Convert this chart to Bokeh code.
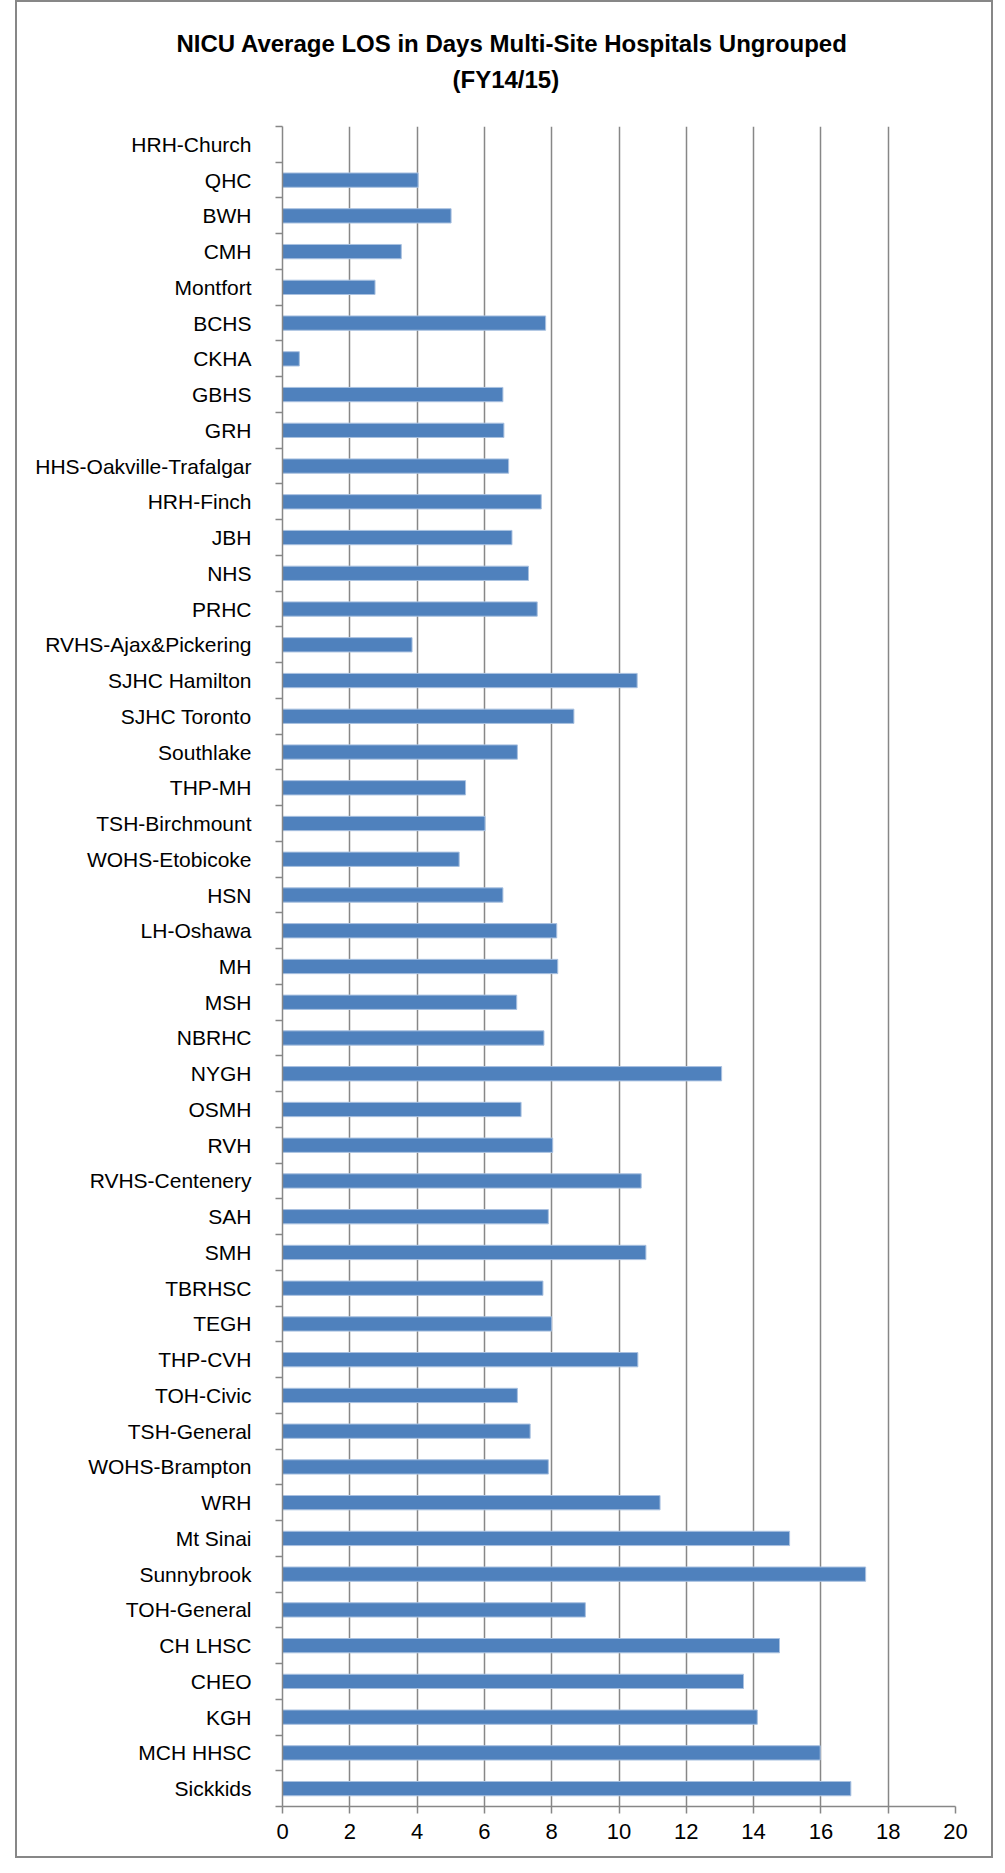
from bokeh.plotting import figure
from bokeh.models import Range1d, FixedTicker, ColumnDataSource, Title, Spacer, Row
from bokeh.embed import file_html
from bokeh.resources import INLINE

title_line1 = "NICU Average LOS in Days Multi-Site Hospitals Ungrouped"
title_line2 = "(FY14/15)"

hospitals = [
    "HRH-Church", "QHC", "BWH", "CMH", "Montfort", "BCHS", "CKHA", "GBHS", "GRH",
    "HHS-Oakville-Trafalgar", "HRH-Finch", "JBH", "NHS", "PRHC", "RVHS-Ajax&Pickering",
    "SJHC Hamilton", "SJHC Toronto", "Southlake", "THP-MH", "TSH-Birchmount",
    "WOHS-Etobicoke", "HSN", "LH-Oshawa", "MH", "MSH", "NBRHC", "NYGH", "OSMH", "RVH",
    "RVHS-Centenery", "SAH", "SMH", "TBRHSC", "TEGH", "THP-CVH", "TOH-Civic",
    "TSH-General", "WOHS-Brampton", "WRH", "Mt Sinai", "Sunnybrook", "TOH-General",
    "CH LHSC", "CHEO", "KGH", "MCH HHSC", "Sickkids",
]
los_days = [
    0.0, 4.03, 5.01, 3.53, 2.75, 7.82, 0.5, 6.55, 6.58,
    6.72, 7.69, 6.82, 7.31, 7.57, 3.85,
    10.54, 8.66, 6.98, 5.44, 6.02,
    5.25, 6.55, 8.15, 8.18, 6.96, 7.77, 13.05, 7.09, 8.03,
    10.66, 7.90, 10.80, 7.74, 8.0, 10.56, 6.98,
    7.36, 7.90, 11.22, 15.07, 17.33, 9.0,
    14.77, 13.70, 14.11, 15.98, 16.89,
]
x_ticks = [0, 2, 4, 6, 8, 10, 12, 14, 16, 18, 20]

FONT = "Liberation Sans"
GRAY = "#878787"

n = len(hospitals)
pos = list(range(n))
src = ColumnDataSource(dict(pos=pos, los=los_days, name=hospitals))

p = figure(width=978, height=1858, output_backend="svg", toolbar_location=None,
           x_range=Range1d(0, 20), y_range=Range1d(n - 0.5, -0.5),
           min_border_left=265, min_border_right=40, min_border_top=124,
           min_border_bottom=54)
p.styles = {"border": "2px solid #878787"}
p.outline_line_color = None
p.background_fill_color = "white"
p.border_fill_color = "white"

p.hbar(y="pos", left=0, right="los", height=0.4, source=src,
       fill_color="#4F81BD", line_color="#A9C1E0", line_width=1)

# x axis
p.xaxis.ticker = FixedTicker(ticks=x_ticks)
p.xaxis.axis_line_color = GRAY
p.xaxis.axis_line_width = 1.5
p.xaxis.major_tick_line_color = GRAY
p.xaxis.major_tick_line_width = 1.5
p.xaxis.major_tick_out = 7
p.xaxis.major_tick_in = 0
p.xaxis.minor_tick_line_color = None
p.xaxis.major_label_text_font = FONT
p.xaxis.major_label_text_font_size = "22px"
p.xaxis.major_label_text_color = "black"
p.xaxis.major_label_standoff = 10

p.xgrid.ticker = FixedTicker(ticks=x_ticks)
p.xgrid.grid_line_color = GRAY
p.xgrid.grid_line_width = 1.5
p.ygrid.visible = False

# y axis: labels at centers, ticks between categories
p.yaxis.ticker = FixedTicker(ticks=pos, minor_ticks=[i - 0.5 for i in range(n + 1)])
p.yaxis.major_label_overrides = {i: h for i, h in zip(pos, hospitals)}
p.yaxis.axis_line_color = GRAY
p.yaxis.axis_line_width = 1.5
p.yaxis.major_tick_out = 0
p.yaxis.major_tick_in = 0
p.yaxis.minor_tick_out = 7
p.yaxis.minor_tick_in = 0
p.yaxis.minor_tick_line_color = GRAY
p.yaxis.minor_tick_line_width = 1.5
p.yaxis.major_label_text_font = FONT
p.yaxis.major_label_text_font_size = "21px"
p.yaxis.major_label_text_color = "black"
p.yaxis.major_label_standoff = 24

# spacer between plot area and the two-line title
p.add_layout(Title(text=" ", standoff=14, text_font=FONT,
                   text_font_size="10px"), "above")
p.add_layout(Title(text=title_line2, align="left", offset=170, standoff=14,
                   text_font=FONT, text_font_style="bold",
                   text_font_size="24px", text_color="black"), "above")
p.add_layout(Title(text=title_line1, align="left", offset=-106, standoff=0,
                   text_font=FONT, text_font_style="bold",
                   text_font_size="24px", text_color="black"), "above")

layout = Row(children=[Spacer(width=15, height=10), p])

open("out.html", "w").write(file_html(layout, INLINE))
